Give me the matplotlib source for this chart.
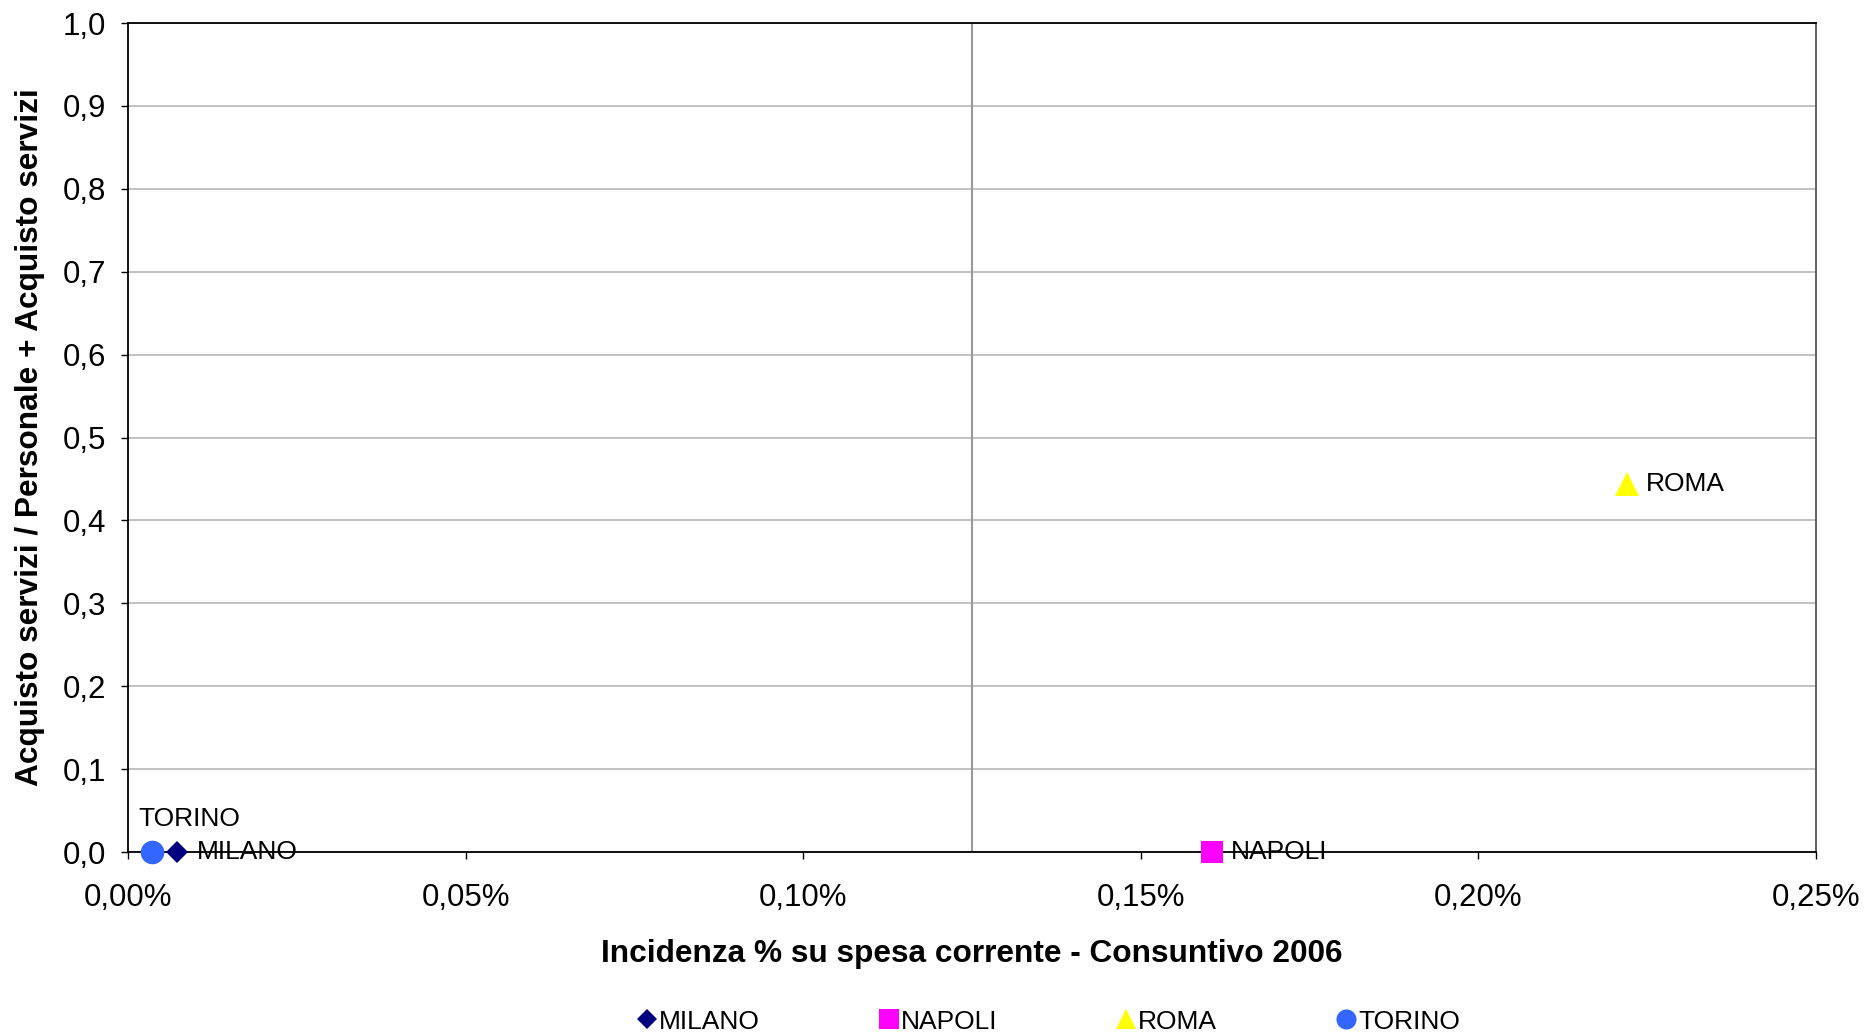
import matplotlib.pyplot as plt
from matplotlib.ticker import FuncFormatter, MultipleLocator

plt.rcParams["font.family"] = ["Liberation Sans", "DejaVu Sans"]

# values (x in percent units)
CITIES = ["MILANO", "NAPOLI", "ROMA", "TORINO"]
INCIDENZA = [0.0073, 0.1605, 0.2220, 0.0036]
RAPPORTO = [0.0, 0.0, 0.444, 0.0]
MARKERS = ["D", "s", "^", "o"]
COLORS = ["#000080", "#FF00FF", "#FFFF00", "#3366FF"]
SIZES = [11.5, 16.5, 17, 17]
LABEL_OFFSETS = [(14, 0), (14, 0), (14, 0), (-10, 24)]
MEDIA_X = 0.125


def main():
    fig = plt.figure(figsize=(18.64, 10.32), dpi=100)
    ax = fig.add_axes([0.0687, 0.1744, 0.9742 - 0.0687, 0.9777 - 0.1744])

    ax.set_xlim(0, 0.25)
    ax.set_ylim(0, 1.0)
    ax.xaxis.set_major_locator(MultipleLocator(0.05))
    ax.yaxis.set_major_locator(MultipleLocator(0.1))
    ax.xaxis.set_major_formatter(
        FuncFormatter(lambda v, _: f"{v:.2f}%".replace(".", ",")))
    ax.yaxis.set_major_formatter(
        FuncFormatter(lambda v, _: f"{v:.1f}".replace(".", ",")))
    ax.tick_params(labelsize=22.5, length=5, width=1, color="black")
    ax.tick_params(axis="x", pad=17)
    ax.tick_params(axis="y", pad=11)

    ax.yaxis.grid(True, color="#b8b8b8", linewidth=1.2)
    ax.set_axisbelow(True)
    ax.axvline(MEDIA_X, color="#999999", linewidth=1.5, zorder=1)

    for side in ["left", "bottom", "top"]:
        ax.spines[side].set_color("black")
        ax.spines[side].set_linewidth(1.3)
    ax.spines["right"].set_color("#555555")
    ax.spines["right"].set_linewidth(1.3)

    for name, x, y, m, c, ms, off in zip(
            CITIES, INCIDENZA, RAPPORTO, MARKERS, COLORS, SIZES,
            LABEL_OFFSETS):
        ax.plot([x], [y], linestyle="none", marker=m, markersize=ms,
                color=c, markeredgewidth=0, label=name, zorder=5,
                clip_on=False)
        ax.annotate(name, (x, y), xytext=off, textcoords="offset points",
                    ha="left", va="center", fontsize=19, zorder=6)

    ax.set_xlabel("Incidenza % su spesa corrente - Consuntivo 2006",
                  fontsize=22.8, fontweight="bold")
    ax.set_ylabel("Acquisto servizi / Personale + Acquisto servizi",
                  fontsize=22.8, fontweight="bold")
    ax.xaxis.set_label_coords(0.5, -0.105)
    ax.yaxis.set_label_coords(-0.049, 0.5)

    fig.legend(loc="center", bbox_to_anchor=(0.563, 0.0101), ncol=4,
               frameon=False, fontsize=19, markerscale=0.85,
               handlelength=0.6, handletextpad=0.15, columnspacing=4.6,
               borderpad=0)

    fig.savefig("out.png", dpi=100)
    plt.close(fig)


if __name__ == "__main__":
    main()
